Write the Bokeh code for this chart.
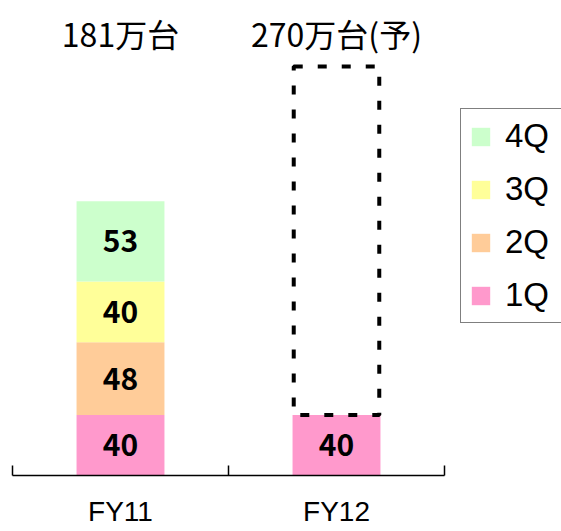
from bokeh.plotting import figure
from bokeh.models import (Range1d, LinearAxis, FixedTicker, Legend, LegendItem,
                          Label, ColumnDataSource)
from bokeh.core.properties import value
from bokeh.embed import file_html
from bokeh.resources import INLINE

# ---- data ----
years = ["FY11", "FY12"]
quarters = ["1Q", "2Q", "3Q", "4Q"]
q1 = [40, 40]
q2 = [48, 0]
q3 = [40, 0]
q4 = [53, 0]
total_labels = ["181万台", "270万台(予)"]
fy12_forecast = 270
colors = ["#FF99CC", "#FFCC99", "#FFFF99", "#CCFFCC"]

FONT = "Noto Sans CJK JP"
LATIN = "Liberation Sans"

xpos = [0.5, 1.5]
src = ColumnDataSource(dict(x=xpos, q1=q1, q2=q2, q3=q3, q4=q4))

p = figure(width=561, height=531, output_backend="svg", toolbar_location=None,
           x_range=Range1d(-12 / 216, 549 / 216), y_range=Range1d(0, 313.5),
           x_axis_location=None, y_axis_location=None,
           min_border_left=0, min_border_right=0, min_border_top=0,
           min_border_bottom=56)
p.outline_line_color = None
p.background_fill_color = "white"
p.border_fill_color = "white"
p.xgrid.visible = False
p.ygrid.visible = False

rs = p.vbar_stack(["q1", "q2", "q3", "q4"], x="x", width=0.407, source=src,
                  color=colors, line_color=None)

# segment value labels
lx, ly, lt = [], [], []
series = [q1, q2, q3, q4]
for i, xv in enumerate(xpos):
    base = 0
    for s in series:
        v = s[i]
        if v > 0:
            lx.append(xv)
            ly.append(base + v / 2)
            lt.append(str(v))
        base += v
p.text(x=lx, y=ly, text=lt, text_align="center", text_baseline="middle",
       text_font=value(FONT), text_font_size="30px", text_font_style="bold",
       text_color="black")

# dashed forecast outline for FY12
known12 = q1[1] + q2[1] + q3[1] + q4[1]
p.quad(left=[xpos[1] - 0.198], right=[xpos[1] + 0.198], bottom=[known12],
       top=[fy12_forecast], fill_color=None, line_color="black",
       line_width=4, line_dash="9 15")

# totals above bars
for xv, t in zip(xpos, total_labels):
    p.add_layout(Label(x=xv, y=443, y_units="screen", text=t,
                       text_align="center", text_baseline="middle",
                       text_font=FONT, text_font_size="32px",
                       text_color="black"))

# category axis (labels at category centres, ticks at category boundaries)
xaxis = LinearAxis(ticker=FixedTicker(ticks=xpos, minor_ticks=[0, 1, 2]),
                   major_label_overrides={xpos[0]: years[0], xpos[1]: years[1]},
                   bounds=(0, 2),
                   axis_line_color="black", axis_line_width=1.5,
                   major_tick_line_color=None, major_tick_in=0, major_tick_out=0,
                   minor_tick_in=10, minor_tick_out=0,
                   minor_tick_line_color="black", minor_tick_line_width=1.5,
                   major_label_standoff=20,
                   major_label_text_font=LATIN,
                   major_label_text_font_size="28px",
                   major_label_text_line_height=0.85,
                   major_label_text_color="black")
p.add_layout(xaxis, "below")

legend = Legend(items=[LegendItem(label=quarters[i], renderers=[rs[i]])
                       for i in [3, 2, 1, 0]],
                location=(460, 152), margin=0, padding=8, spacing=15,
                glyph_width=23, glyph_height=23, label_height=30,
                label_width=80, label_standoff=13,
                label_text_font=LATIN, label_text_font_size="33px",
                label_text_color="black",
                border_line_color="black", border_line_width=1.5,
                background_fill_color="white", background_fill_alpha=1)
p.add_layout(legend, "center")

open("out.html", "w").write(file_html(p, INLINE))
